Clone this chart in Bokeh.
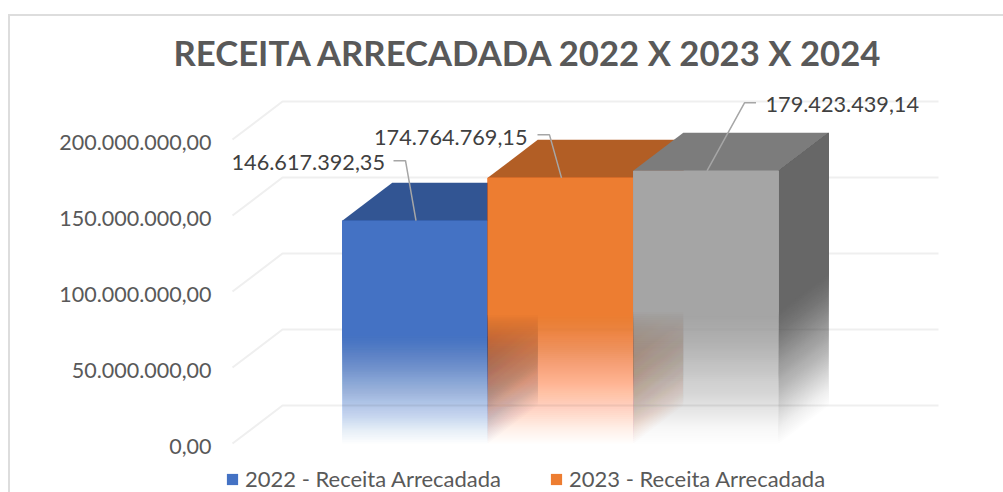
from bokeh.plotting import figure
from bokeh.embed import file_html
from bokeh.resources import INLINE
from bokeh.models import Range1d, FixedTicker, Legend, LegendItem, LinearAxis, InlineStyleSheet
from bokeh.core.properties import value

# ---- data ----
title_text = "RECEITA ARRECADADA 2022 X 2023 X 2024"
series_names = ["2022 - Receita Arrecadada", "2023 - Receita Arrecadada", "2024 - Receita Arrecadada"]
series_values = [146617392.35, 174764769.15, 179423439.14]
value_labels = ["146.617.392,35", "174.764.769,15", "179.423.439,14"]
tick_values = [0, 50000000, 100000000, 150000000, 200000000]
tick_labels = ["0,00", "50.000.000,00", "100.000.000,00", "150.000.000,00", "200.000.000,00"]

# ---- style ----
front_colors = ["#4472C4", "#ED7D31", "#A5A5A5"]
top_colors = ["#325593", "#B25E25", "#7C7C7C"]
side_colors = ["#2F5290", "#A9581F", "#676767"]
FONT = "Lato"
W, H = 1003, 492
FRAME_LEFT, FRAME_TOP = 212, 80      # canvas px
PX_PER_UNIT_X = 145.5
PX_PER_M = 1.52
X0_PAGE = 414.5                      # page px of first bar centre
Y0_PAGE = 443                        # page px of value 0
DX = 50 / PX_PER_UNIT_X              # depth of the 3-D box
DY = 38 / PX_PER_M * 1e6
FADE_FRAC = 0.49
N_LAYERS = 64
TICK_LABEL_DROP_PX = 2.5             # tick texts sit slightly below the gridline ends

xl = (FRAME_LEFT - X0_PAGE) / PX_PER_UNIT_X
xr = (W - X0_PAGE) / PX_PER_UNIT_X
yb = -(H - Y0_PAGE) / PX_PER_M * 1e6
yt = (Y0_PAGE - FRAME_TOP) / PX_PER_M * 1e6

p = figure(width=W, height=H, output_backend="svg", toolbar_location=None,
           x_range=Range1d(xl, xr), y_range=Range1d(yb, yt),
           min_border_left=FRAME_LEFT, min_border_right=0, min_border_bottom=0, min_border_top=FRAME_TOP,
           x_axis_location=None, y_axis_location=None)
p.outline_line_color = None
p.grid.visible = False

# chart border: only its left and top sides fall inside the picture
p.stylesheets = [InlineStyleSheet(css=(
    ":host::after{content:'';position:absolute;left:8px;top:14px;right:0;bottom:0;"
    "border-left:2px solid #DDDDDD;border-top:2px solid #DDDDDD;"
    "pointer-events:none;z-index:5;}"))]

drop = TICK_LABEL_DROP_PX / PX_PER_M * 1e6
p.extra_y_ranges = {"ticks": Range1d(yb + drop, yt + drop)}
ax = LinearAxis(y_range_name="ticks")
ax.ticker = FixedTicker(ticks=tick_values)
ax.major_label_overrides = {v: s for v, s in zip(tick_values, tick_labels)}
ax.axis_line_color = None
ax.major_tick_line_color = None
ax.minor_tick_line_color = None
ax.major_tick_out = 0
ax.major_tick_in = 0
ax.major_label_text_font = FONT
ax.major_label_text_font_size = "21.5px"
ax.major_label_text_color = "#595959"
ax.major_label_standoff = 1
p.add_layout(ax, "left")

p.title.text = title_text
p.title.text_font = FONT
p.title.text_font_size = "34.7px"
p.title.text_font_style = "bold"
p.title.text_color = "#595959"
p.title.align = "left"
p.title.offset = 173 - FRAME_LEFT
p.title.standoff = 15

# gridlines: floor-to-back-wall
grid_xl = (232 - X0_PAGE) / PX_PER_UNIT_X
grid_xr = (938 - X0_PAGE) / PX_PER_UNIT_X
gx = [[grid_xl, grid_xl + DX, grid_xr] for _ in tick_values]
gy = [[v, v + DY, v + DY] for v in tick_values]
p.multi_line(gx, gy, line_color="#EFEFEF", line_width=2)

solid = []
for i, v in enumerate(series_values):
    l, r = i - 0.5, i + 0.5
    fade_top = v * FADE_FRAC
    # top face
    p.patch([l, r, r + DX, l + DX], [v, v, v + DY, v + DY], fill_color=top_colors[i], line_color=None)
    # nested layers: each starts higher, so their opacity adds up to a smooth fade without seams
    sx, sy, fx, fy, alphas = [], [], [], [], []
    for k in range(1, N_LAYERS):
        a = fade_top * (k - 1) / N_LAYERS
        sx.append([r, r + DX, r + DX, r])
        sy.append([a, a + DY, v + DY, v])
        fx.append([l, r, r, l])
        fy.append([a, a, v, v])
        alphas.append(1 / (N_LAYERS - k + 1))
    p.patches(sx, sy, fill_color=side_colors[i], fill_alpha=alphas, line_color=None)
    a = fade_top * (N_LAYERS - 1) / N_LAYERS
    p.patch([r, r + DX, r + DX, r], [a, a + DY, v + DY, v], fill_color=side_colors[i], line_color=None)
    p.patches(fx, fy, fill_color=front_colors[i], fill_alpha=alphas, line_color=None)
    solid.append(p.patch([l, r, r, l], [a, a, v, v], fill_color=front_colors[i], line_color=None))

# data labels with leader lines (offsets in px from the bar's top centre)
leader_px = [[(1, 0), (-9.5, 60), (-21.5, 60)],
             [(1, 0), (-11, 43), (-23, 43)],
             [(1, 0), (38.5, 68), (50, 68)]]
label_px = [(-30, 58.5, "right"), (-33, 40, "right"), (59.5, 66, "left")]
for i, v in enumerate(series_values):
    p.line([i + a / PX_PER_UNIT_X for a, _ in leader_px[i]],
           [v + b / PX_PER_M * 1e6 for _, b in leader_px[i]],
           line_color="#A6A6A6", line_width=1.5)
    dx, dy, al = label_px[i]
    p.text([i + dx / PX_PER_UNIT_X], [v + dy / PX_PER_M * 1e6], text=[value_labels[i]],
           text_font=value(FONT), text_font_size="21.7px", text_color="#404040",
           text_align=al, text_baseline="middle")

legend = Legend(items=[LegendItem(label=series_names[0], renderers=[solid[0]]),
                       LegendItem(label=series_names[1], renderers=[solid[1]])],
                orientation="horizontal", location=(13, 0), background_fill_alpha=0,
                border_line_color=None, margin=0, padding=0, spacing=48,
                glyph_width=14, glyph_height=14, label_standoff=6,
                label_text_font=FONT, label_text_font_size="22px", label_text_color="#595959")
p.add_layout(legend, "center")

open("out.html", "w").write(file_html(p, INLINE))
